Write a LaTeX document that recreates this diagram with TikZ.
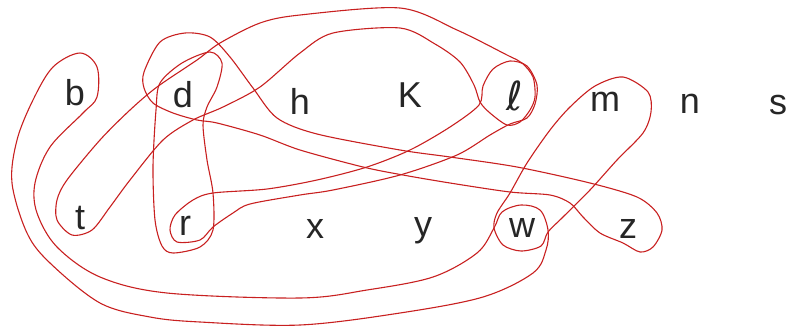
\documentclass[tikz,border=0pt]{standalone}
\usepackage{fontspec}
\setmainfont{Liberation Sans}
\newfontfamily\symfont{DejaVu Sans}
\definecolor{pen}{RGB}{200,32,32}
\begin{document}
\begin{tikzpicture}[x=1pt,y=-1pt,
  loopline/.style={draw=pen,line width=1.1pt,line join=round},
  letter/.style={font=\fontsize{36}{40}\selectfont,text=black!85,inner sep=0pt}]
\useasboundingbox (0,0) rectangle (792,327);
% letters
\node[letter] (b) at (75,93) {b};
\node[letter] (d) at (183,95) {d};
\node[letter] (h) at (300,101) {h};
\node[letter] (K) at (410,95) {K};
\node[letter,font=\fontsize{40}{44}\selectfont] (l) at (515,96) {\symfont ℓ};
\node[letter] (m) at (605,102) {m};
\node[letter] (n) at (690,104) {n};
\node[letter] (s) at (778,105) {s};
\node[letter] (t) at (80,218) {t};
\node[letter] (r) at (185,226) {r};
\node[letter] (x) at (315,229) {x};
\node[letter] (y) at (423,231) {y};
\node[letter] (w) at (522,228) {w};
\node[letter] (z) at (628,229) {z};
% b - w loop
\draw[loopline] plot[smooth cycle,tension=0.55] coordinates {
 (80,53) (97,67) (97,97) (83,113) (50,147) (35,183) (37,213) (57,247)
 (100,277) (167,293) (300,298) (367,290) (433,277) (477,253) (494,228)
 (502,212) (521,205) (540,210) (548,230) (546,250) (533,273) (483,297)
 (400,313) (300,325) (200,322) (150,317) (100,303) (50,263) (27,233)
 (12,183) (17,140) (33,100) (53,67)};
% m - w loop
\draw[loopline] plot[smooth cycle,tension=0.5] coordinates {
 (623,77) (648,92) (651,112) (643,133) (617,160) (590,190) (563,217)
 (548,232) (541,246) (521,251) (503,245) (494,228) (497,213) (510,193)
 (527,163) (550,130) (570,107) (595,86)};
% t - d - l loop
\draw[loopline] plot[smooth cycle,tension=0.5] coordinates {
 (72,235) (57,220) (57,200) (67,180) (100,140) (130,110) (157,87)
 (197,60) (220,43) (260,23) (300,15) (400,8) (457,30) (507,55) (522,63)
 (533,77) (535,97) (530,110) (520,122) (507,125) (490,113) (480,102)
 (474,85) (460,62) (435,44) (400,28) (333,33) (300,53) (260,87) (223,107)
 (193,120) (163,140) (130,180) (110,207) (92,230)};
% r - l loop
\draw[loopline] plot[smooth cycle,tension=0.5] coordinates {
 (170,230) (177,242) (200,240) (213,227) (233,213) (250,204) (300,195)
 (333,190) (400,175) (457,155) (490,135) (510,124) (527,118) (535,104)
 (537,85) (527,66) (510,61) (493,69) (483,86) (479,105) (450,127)
 (410,150) (367,167) (317,180) (267,189) (213,193) (193,200) (175,215)};
% d - z loop
\draw[loopline] plot[smooth cycle,tension=0.5] coordinates {
 (144,72) (160,42) (185,33) (210,37) (230,57) (253,88) (277,118) (317,134)
 (400,150) (450,157) (517,167) (590,183) (637,197) (657,213) (662,230)
 (653,247) (640,252) (623,243) (600,233) (583,217) (570,203) (550,195)
 (510,192) (450,183) (403,175) (363,167) (300,150) (260,135) (217,123)
 (197,120) (173,113) (153,103) (144,88)};
% d - r loop
\draw[loopline] plot[smooth cycle,tension=0.5] coordinates {
 (210,52) (222,63) (217,87) (207,107) (203,125) (207,160) (213,193)
 (213,230) (200,247) (173,253) (162,246) (155,220) (153,167) (156,110)
 (160,83) (182,63)};
\end{tikzpicture}
\end{document}
